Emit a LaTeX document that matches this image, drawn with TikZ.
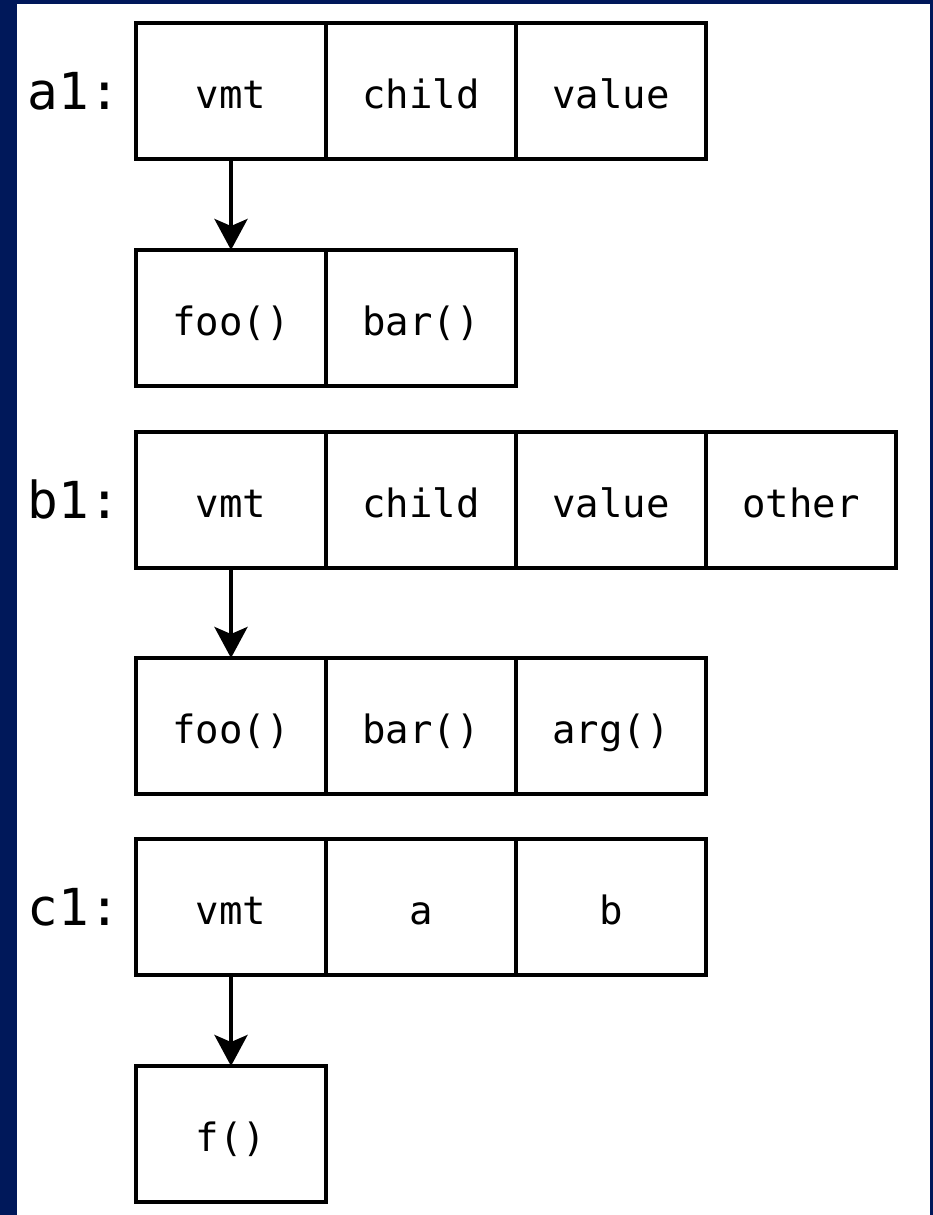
\documentclass[tikz,border=0pt]{standalone}
\usepackage{fontspec}
\setmonofont{DejaVu Sans Mono}
\usetikzlibrary{arrows.meta}

\definecolor{slideblue}{RGB}{0,24,90}

\tikzset{
    cell/.style={draw, line width=4.5pt, rectangle, minimum width=190pt, minimum height=136pt,
                 inner sep=0pt, outer sep=0pt, font=\ttfamily\fontsize{39}{47}\selectfont,
                 text height=37pt, text depth=3pt},
    objname/.style={anchor=base, font=\ttfamily\fontsize{51}{60}\selectfont},
    ptr/.style={-{Stealth[length=31pt, width=33pt, inset=7pt]}, line width=4pt}
}

\begin{document}
\begin{tikzpicture}[x=1pt, y=-1pt]
    \useasboundingbox (0,0) rectangle (933,1215);
    \fill[slideblue] (0,0) rectangle (933,1215);
    \fill[white] (17,4) rectangle (930,1215);

    % object a1
    \node[objname] (a1) at (74,109) {a1:};
    \node[cell] (a1vmt)   at (231,91) {vmt};
    \node[cell] (a1child) at (421,91) {child};
    \node[cell] (a1value) at (611,91) {value};
    \node[cell] (a1foo) at (231,318) {foo()};
    \node[cell] (a1bar) at (421,318) {bar()};
    \draw[ptr] (a1vmt) -- (a1foo);

    % object b1
    \node[objname] (b1) at (74,518) {b1:};
    \node[cell] (b1vmt)   at (231,500) {vmt};
    \node[cell] (b1child) at (421,500) {child};
    \node[cell] (b1value) at (611,500) {value};
    \node[cell] (b1other) at (801,500) {other};
    \node[cell] (b1foo) at (231,726) {foo()};
    \node[cell] (b1bar) at (421,726) {bar()};
    \node[cell] (b1arg) at (611,726) {arg()};
    \draw[ptr] (b1vmt) -- (b1foo);

    % object c1
    \node[objname] (c1) at (74,925) {c1:};
    \node[cell] (c1vmt) at (231,907) {vmt};
    \node[cell] (c1a)   at (421,907) {a};
    \node[cell] (c1b)   at (611,907) {b};
    \node[cell] (c1f) at (231,1134) {f()};
    \draw[ptr] (c1vmt) -- (c1f);
\end{tikzpicture}
\end{document}
